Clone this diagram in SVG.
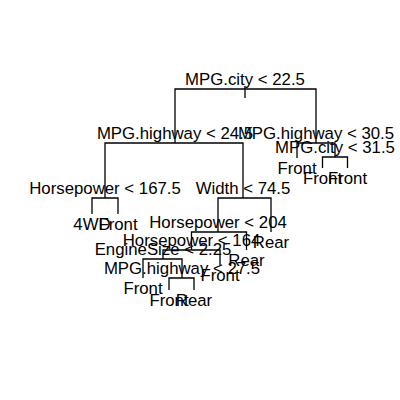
<svg xmlns="http://www.w3.org/2000/svg" width="400" height="400" viewBox="0 0 400 400">
<style>
.c{fill:none;stroke:#000;stroke-width:1.3}
text{font-family:"Liberation Sans",Arial,sans-serif;font-size:16.8px;fill:#000;text-anchor:middle}
</style>
<rect width="400" height="400" fill="#fff"/>
<g id="connectors" class="c">
<path d="M245,86V98"/>
<path d="M245,89H175V143"/>
<path d="M245,89H316V143"/>
<path d="M175,143H105V198"/>
<path d="M175,143H243V198"/>
<path d="M105,198H92V214"/>
<path d="M105,198H118V214"/>
<path d="M243,198H218V232"/>
<path d="M243,198H271V232"/>
<path d="M218,232H191.5V250"/>
<path d="M218,232H246.5V250"/>
<path d="M191.5,250H163V259"/>
<path d="M191.5,250H220V265"/>
<path d="M163,259H143V278"/>
<path d="M163,259H182V278"/>
<path d="M182,278H169V290"/>
<path d="M182,278H194V290"/>
<path d="M316,143H297V158"/>
<path d="M316,143H335V157"/>
<path d="M335,157H322.5V168"/>
<path d="M335,157H347.5V168"/>
</g>
<g id="n1"><text x="245" y="84.5">MPG.city &lt; 22.5</text></g>
<g id="n2"><text x="175" y="138.5">MPG.highway &lt; 24.5</text></g>
<g id="n3"><text x="316" y="138.5">MPG.highway &lt; 30.5</text></g>
<g id="n4"><text x="105" y="193.5">Horsepower &lt; 167.5</text></g>
<g id="n5"><text x="243" y="193.5">Width &lt; 74.5</text></g>
<g id="n8"><text x="92" y="230">4WD</text></g>
<g id="n9"><text x="118" y="230">Front</text></g>
<g id="n10"><text x="218" y="227.5">Horsepower &lt; 204</text></g>
<g id="n11"><text x="271" y="248">Rear</text></g>
<g id="n20"><text x="191.5" y="245.5">Horsepower &lt; 164</text></g>
<g id="n21"><text x="246.5" y="266">Rear</text></g>
<g id="n40"><text x="163" y="254.5">EngineSize &lt; 2.25</text></g>
<g id="n41"><text x="220" y="281">Front</text></g>
<g id="n80"><text x="143" y="294">Front</text></g>
<g id="n81"><text x="182" y="273.5">MPG.highway &lt; 27.5</text></g>
<g id="n162"><text x="169" y="306">Front</text></g>
<g id="n163"><text x="194" y="306">Rear</text></g>
<g id="n6"><text x="297" y="174">Front</text></g>
<g id="n7"><text x="335" y="152.5">MPG.city &lt; 31.5</text></g>
<g id="n14"><text x="322.5" y="184">Front</text></g>
<g id="n15"><text x="347.5" y="184">Front</text></g>
</svg>
